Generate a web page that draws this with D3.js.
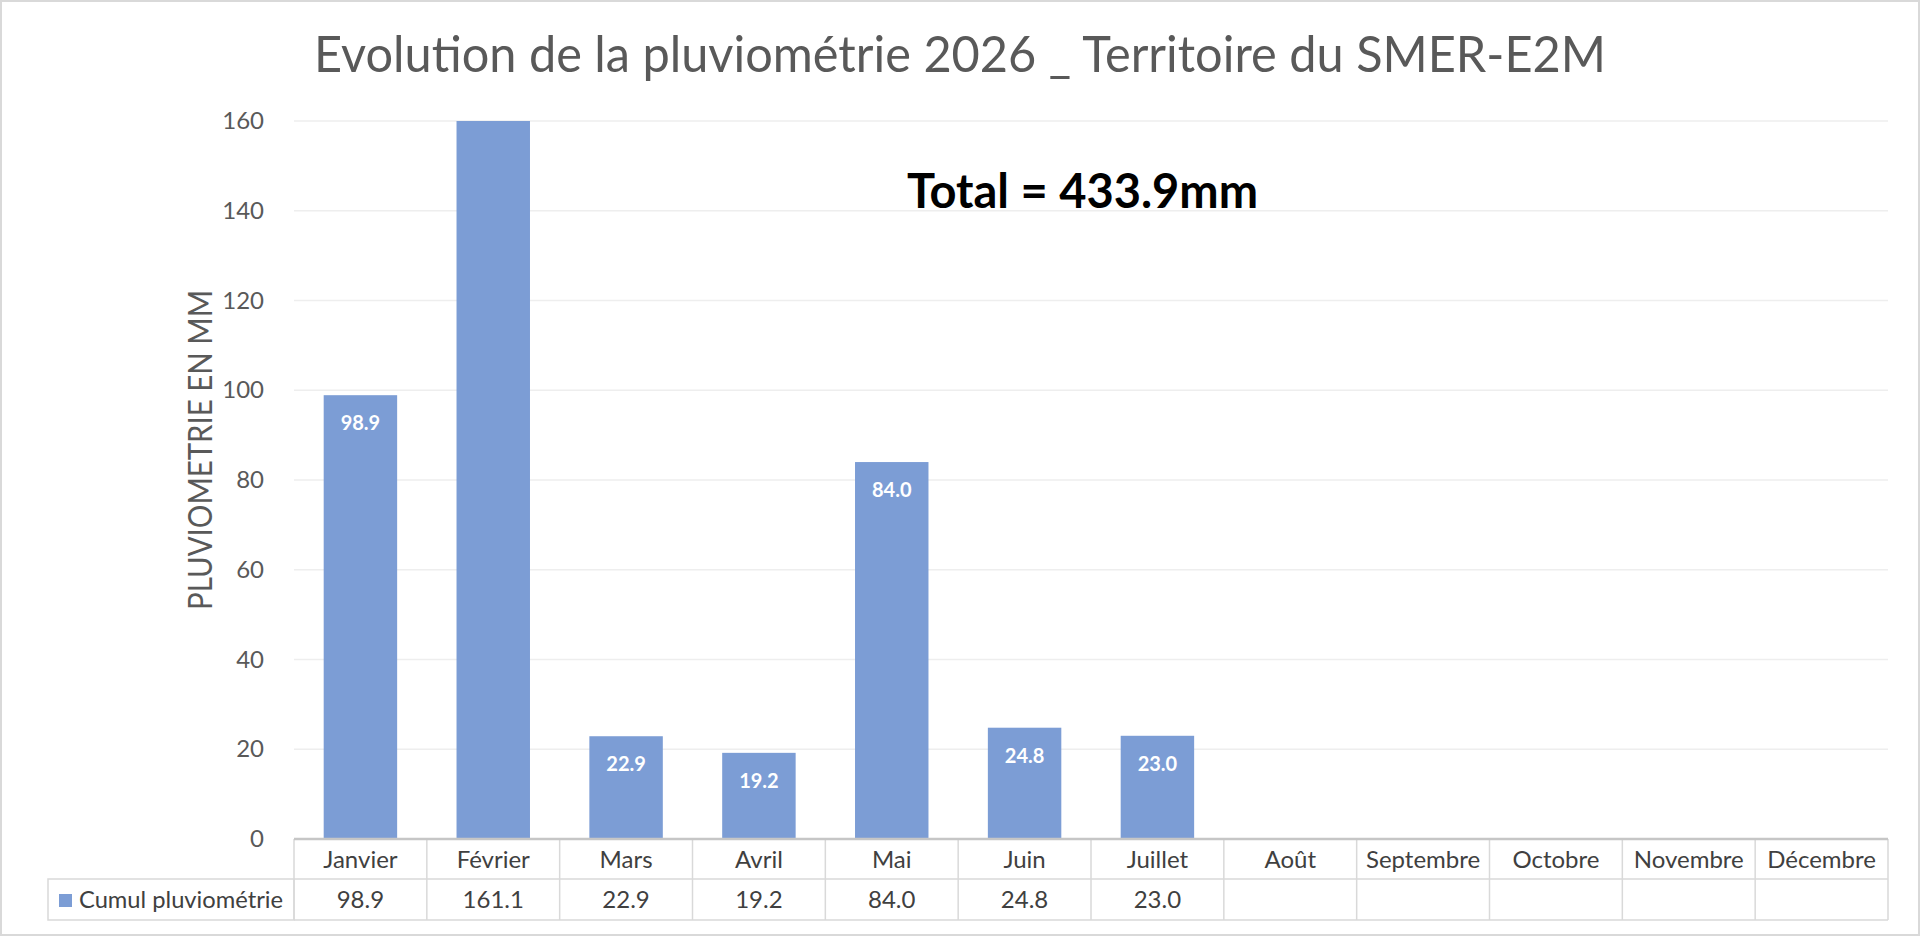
<!DOCTYPE html>
<html>
<head>
<meta charset="utf-8">
<script src="https://cdn.jsdelivr.net/npm/d3@7"></script>
<style>
    body { margin: 0; background: #fff; }
    svg { display: block; font-family: Lato, "Open Sans", sans-serif; font-variant-numeric: tabular-nums; }
</style>
</head>
<body>
<div id="chart"></div>
<script>
'use strict';

// Cumul pluviométrie par mois (mm), les mois à venir restent vides
var months = ['Janvier', 'Février', 'Mars', 'Avril', 'Mai', 'Juin', 'Juillet', 'Août', 'Septembre', 'Octobre', 'Novembre', 'Décembre'];
var rain = [98.9, 161.1, 22.9, 19.2, 84.0, 24.8, 23.0, null, null, null, null, null];
var yTicks = [0, 20, 40, 60, 80, 100, 120, 140, 160];

var seriesName = 'Cumul pluviométrie',
    title = 'Evolution de la pluviométrie 2026 _ Territoire du SMER-E2M',
    yTitle = 'PLUVIOMETRIE EN MM';

var width = 1920,
    height = 936,
    plot = { left: 294, right: 1888, top: 121, bottom: 839 },
    rowH = [40, 41],
    barColor = '#7c9dd5',
    textColor = '#595959',
    tableColor = '#404040',
    lineColor = '#d9d9d9';

var fmt = d3.format('.1f');

var svg = d3.select('#chart').append('svg')
            .attr('width', width)
            .attr('height', height);

// squeeze a text down to the width it takes in the original (Calibri is narrower than Lato)
function fit(sel, maxWidth) {
    sel.each(function () {
        if (this.getComputedTextLength() > maxWidth) {
            d3.select(this).attr('textLength', maxWidth).attr('lengthAdjust', 'spacingAndGlyphs');
        }
    });
    return sel;
}

svg.append('rect')
   .attr('x', 1).attr('y', 1)
   .attr('width', width - 2).attr('height', height - 2)
   .attr('fill', '#fff')
   .attr('stroke', lineColor)
   .attr('stroke-width', 2);

var col = d3.scaleBand()
            .domain(months)
            .range([plot.left, plot.right]);

var x = d3.scaleBand()
          .domain(months)
          .range([plot.left, plot.right])
          .paddingInner(0.447)
          .paddingOuter(0.2235);

var y = d3.scaleLinear()
          .domain([0, 160])
          .range([plot.bottom, plot.top])
          .clamp(true);

// gridlines
svg.append('g')
   .selectAll('line')
   .data(yTicks.slice(1))
   .enter()
   .append('line')
   .attr('x1', plot.left).attr('x2', plot.right)
   .attr('y1', function (d) { return y(d); })
   .attr('y2', function (d) { return y(d); })
   .attr('stroke', '#eeeeee')
   .attr('stroke-width', 1.5);

// y axis labels
var yAxis = svg.append('g')
               .attr('transform', 'translate(' + (plot.left - 30) + ',0)')
               .call(d3.axisLeft(y).tickValues(yTicks).tickSize(0).tickPadding(0));

yAxis.select('.domain').remove();
yAxis.selectAll('text')
     .attr('fill', textColor)
     .attr('font-size', 24)
     .attr('font-family', 'Lato, sans-serif');

svg.append('text')
   .attr('transform', 'translate(212,450) rotate(-90)')
   .attr('text-anchor', 'middle')
   .attr('fill', textColor)
   .attr('font-size', 33)
   .text(yTitle)
   .call(fit, 320);

// bars
var data = months.map(function (m, i) { return { month: m, value: rain[i] }; })
                 .filter(function (d) { return d.value !== null; });

svg.append('g')
   .selectAll('rect')
   .data(data)
   .enter()
   .append('rect')
   .attr('x', function (d) { return x(d.month); })
   .attr('width', x.bandwidth())
   .attr('y', function (d) { return y(d.value); })
   .attr('height', function (d) { return plot.bottom - y(d.value); })
   .attr('fill', barColor);

// data labels, hidden when the bar runs past the axis max
svg.append('g')
   .selectAll('text')
   .data(data.filter(function (d) { return d.value <= y.domain()[1]; }))
   .enter()
   .append('text')
   .attr('x', function (d) { return x(d.month) + x.bandwidth() / 2; })
   .attr('y', function (d) { return y(d.value) + 35; })
   .attr('text-anchor', 'middle')
   .attr('fill', '#fff')
   .attr('font-weight', 'bold')
   .attr('font-size', 20)
   .text(function (d) { return fmt(d.value); });

// title and total
svg.append('text')
   .attr('x', width / 2)
   .attr('y', 72)
   .attr('text-anchor', 'middle')
   .attr('fill', textColor)
   .attr('font-size', 50)
   .text(title)
   .call(fit, 1292);

svg.append('text')
   .attr('x', 907)
   .attr('y', 208)
   .attr('fill', '#000')
   .attr('font-weight', 'bold')
   .attr('font-size', 47)
   .text('Total = ' + fmt(d3.sum(rain)) + 'mm')
   .call(fit, 351);

// data table under the axis
var table = svg.append('g'),
    row1 = plot.bottom + rowH[0],
    row2 = row1 + rowH[1],
    legendLeft = 48;

table.append('rect')
     .attr('x', legendLeft).attr('y', row1)
     .attr('width', plot.left - legendLeft).attr('height', rowH[1])
     .attr('fill', 'none')
     .attr('stroke', lineColor)
     .attr('stroke-width', 1.5);

table.selectAll('line.hrow')
     .data([row1, row2])
     .enter()
     .append('line')
     .attr('class', 'hrow')
     .attr('x1', plot.left).attr('x2', plot.right)
     .attr('y1', function (d) { return d; })
     .attr('y2', function (d) { return d; })
     .attr('stroke', lineColor)
     .attr('stroke-width', 1.5);

table.selectAll('line.vcol')
     .data(months.map(function (m) { return col(m); }).concat([plot.right]))
     .enter()
     .append('line')
     .attr('class', 'vcol')
     .attr('x1', function (d) { return d; })
     .attr('x2', function (d) { return d; })
     .attr('y1', plot.bottom).attr('y2', row2)
     .attr('stroke', lineColor)
     .attr('stroke-width', 1.5);

table.append('line')
     .attr('x1', plot.left).attr('x2', plot.right)
     .attr('y1', plot.bottom).attr('y2', plot.bottom)
     .attr('stroke', '#c6c6c6')
     .attr('stroke-width', 2.5);

table.selectAll('text.month')
     .data(months)
     .enter()
     .append('text')
     .attr('class', 'month')
     .attr('x', function (d) { return col(d) + col.bandwidth() / 2; })
     .attr('y', plot.bottom + 29)
     .attr('text-anchor', 'middle')
     .attr('fill', tableColor)
     .attr('font-size', 24)
     .text(function (d) { return d; })
     .call(fit, 116);

table.selectAll('text.value')
     .data(data)
     .enter()
     .append('text')
     .attr('class', 'value')
     .attr('x', function (d) { return col(d.month) + col.bandwidth() / 2; })
     .attr('y', row1 + 29)
     .attr('text-anchor', 'middle')
     .attr('fill', tableColor)
     .attr('font-size', 24)
     .text(function (d) { return fmt(d.value); });

table.append('rect')
     .attr('x', 59).attr('y', row1 + 15)
     .attr('width', 13).attr('height', 13)
     .attr('fill', barColor);

table.append('text')
     .attr('x', 79)
     .attr('y', row1 + 29)
     .attr('fill', tableColor)
     .attr('font-size', 24)
     .text(seriesName)
     .call(fit, 204);
</script>
</body>
</html>
